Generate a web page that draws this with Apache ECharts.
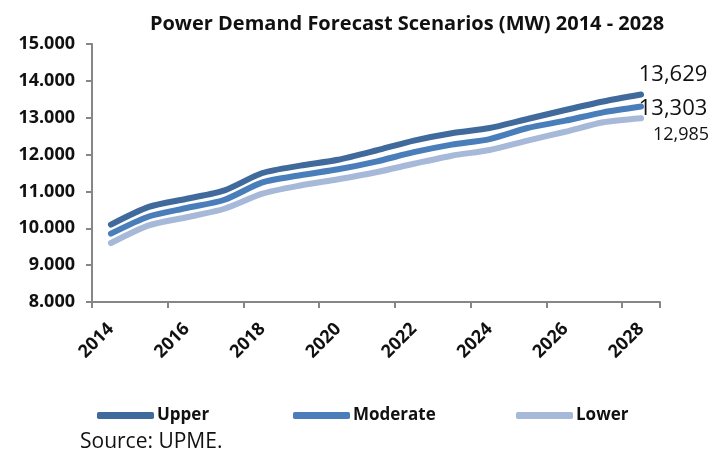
<!DOCTYPE html>
<html><head><meta charset="utf-8">
<script src="https://cdn.jsdelivr.net/npm/echarts@6/dist/echarts.min.js"></script>
<style>html,body{margin:0;padding:0;background:#fff}#c{width:716px;height:455px}</style>
</head><body><div id="c"></div>
<script>
const years = ['2014','2015','2016','2017','2018','2019','2020','2021','2022','2023','2024','2025','2026','2027','2028'];
const upper = [10100,10580,10800,11030,11500,11700,11860,12110,12380,12580,12720,12965,13210,13440,13629];
const moderate = [9855,10320,10550,10775,11245,11440,11600,11810,12065,12270,12420,12720,12920,13145,13303];
const lower = [9600,10080,10300,10530,10940,11160,11330,11520,11750,11970,12125,12380,12620,12875,12985];
const endLabels = ['13,629','13,303','12,985'];
const seriesNames = ['Upper','Moderate','Lower'];

const FONT = '"Open Sans", "DejaVu Sans", sans-serif';
const colors = ['#406A9B','#4A7EBB','#A7B9D8'];
function mk(name, data, color, lbl, fs, off){
  return {
    name, type:'line',
    data: data.map((v,i)=> i===data.length-1 ? {value:v, label:{show:true, formatter:lbl, fontSize:fs, fontFamily:FONT, color:'#111', position:'inside', offset:off}} : v),
    smooth:0.25, symbol:'circle', symbolSize:1, showSymbol:true, clip:false,
    lineStyle:{width:6, color, cap:'round'}, itemStyle:{color}, z:3
  };
}
function leg(name, left){
  return {data:[name], left, top:402, itemWidth:57, itemHeight:7, itemGap:0, icon:'roundRect',
    textStyle:{fontFamily:FONT, fontWeight:'bold', fontSize:17, color:'#111', padding:[0,0,0,-2]}};
}
const chart = echarts.init(document.getElementById('c'));
chart.setOption({
  animation:false,
  title:{text:'Power Demand Forecast Scenarios (MW) 2014 - 2028', left:402, top:9, textAlign:'center',
    textStyle:{fontFamily:FONT, fontWeight:'bold', fontSize:20, color:'#111'}},
  grid:{left:92, right:56, top:44, bottom:153},
  xAxis:{type:'category', data:years, boundaryGap:true,
    axisLine:{lineStyle:{color:'#868686', width:2}},
    axisTick:{show:true, length:6, lineStyle:{color:'#868686', width:2}},
    axisLabel:{rotate:45, interval:1, fontFamily:FONT, fontWeight:'bold', fontSize:18, color:'#111', margin:24}},
  yAxis:{type:'value', min:8000, max:15000, interval:1000,
    axisLine:{show:true, lineStyle:{color:'#868686', width:2}},
    axisTick:{show:true, length:6, lineStyle:{color:'#868686', width:2}},
    splitLine:{show:false},
    axisLabel:{fontFamily:FONT, fontWeight:'bold', fontSize:18, color:'#111', margin:17,
      formatter:v=> (v/1000).toFixed(3)}},
  legend:[leg(seriesNames[0],92), leg(seriesNames[1],288), leg(seriesNames[2],511)],
  graphic:[{type:'text', left:80, top:432, style:{text:'Source: UPME.', font:'21px '+FONT, fill:'#111'}}],
  series:[
    mk(seriesNames[0], upper, colors[0], endLabels[0], 22, [32,-20]),
    mk(seriesNames[1], moderate, colors[1], endLabels[1], 22, [32,2]),
    mk(seriesNames[2], lower, colors[2], endLabels[2], 18, [40,17])
  ]
});
</script></body></html>
